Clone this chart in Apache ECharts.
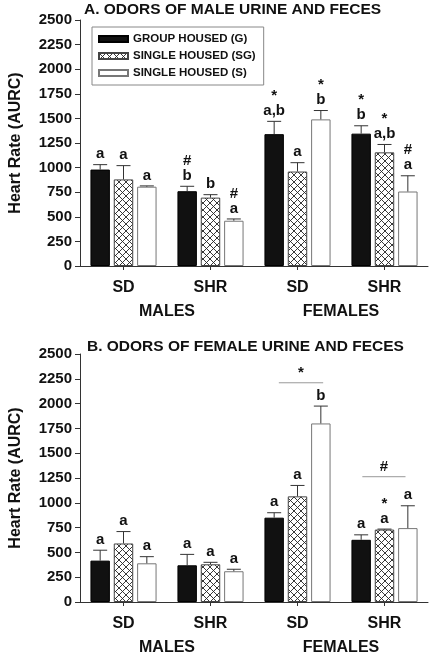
<!DOCTYPE html>
<html>
<head>
<meta charset="utf-8">
<script src="https://cdn.jsdelivr.net/npm/echarts@6/dist/echarts.min.js"></script>
<style>
html,body{margin:0;padding:0;background:#fff;}
#chart{width:432px;height:657px;}
</style>
</head>
<body>
<div id="chart"></div>
<script>
// ---------- DATA ----------
const categories = ['SD', 'SHR', 'SD', 'SHR'];
const sexes = ['MALES', 'FEMALES'];
const seriesNames = ['GROUP HOUSED (G)', 'SINGLE HOUSED (SG)', 'SINGLE HOUSED (S)'];
const yMin = 0, yMax = 2500, yInterval = 250;
const titleA = 'A. ODORS OF MALE URINE AND FECES';
const titleB = 'B. ODORS OF FEMALE URINE AND FECES';
const yName = 'Heart Rate (AURC)';

// Panel A: odors of male urine and feces
const A_G = [980, 760, 1340, 1345];
const A_G_err = [50, 50, 130, 80];
const A_SG = [880, 695, 960, 1155];
const A_SG_err = [140, 30, 90, 80];
const A_S = [806, 460, 1490, 757];
const A_S_err = [8, 18, 90, 160];
const A_G_lbl = ['a', '#\nb', '*\na,b', '*\nb'];
const A_SG_lbl = ['a', 'b', 'a', '*\na,b'];
const A_S_lbl = ['a', '#\na', '*\nb', '#\na'];

// Panel B: odors of female urine and feces
const B_G = [417, 370, 850, 627];
const B_G_err = [105, 110, 50, 50];
const B_SG = [590, 380, 1065, 730];
const B_SG_err = [120, 20, 110, 5];
const B_S = [390, 310, 1800, 745];
const B_S_err = [67, 20, 175, 225];
const B_G_lbl = ['a', 'a', 'a', 'a'];
const B_SG_lbl = ['a', 'a', 'a', '*\na'];
const B_S_lbl = ['a', 'a', 'b', 'a'];

// significance brackets in panel B: category, level, symbol
const B_brk_cat = [2, 3];
const B_brk_val = [2210, 1263];
const B_brk_sym = ['*', '#'];
const B_brk_from = [-0.8, -0.95];   // in bar steps relative to category centre
const B_brk_to = [1.1, 0.9];

// ---------- STYLE ----------
const FF = '"Liberation Sans", Arial, sans-serif';
const CAT_GAP = 0.24, BAR_GAP = 0.2;

const pc = document.createElement('canvas');
pc.width = 7; pc.height = 7;
(function () {
  const c = pc.getContext('2d');
  c.fillStyle = '#fff'; c.fillRect(0, 0, 7, 7);
  c.strokeStyle = '#222'; c.lineWidth = 0.9;
  c.beginPath();
  c.moveTo(-1, -1); c.lineTo(8, 8);
  c.moveTo(8, -1); c.lineTo(-1, 8);
  c.stroke();
})();

const barStyles = [
  { color: '#111', borderColor: '#000', borderWidth: 1 },
  { color: { image: pc, repeat: 'repeat' }, borderColor: '#444', borderWidth: 1 },
  { color: '#fff', borderColor: '#777', borderWidth: 1 }
];

function errItems(means, errs, labels) {
  const items = [];
  for (let s = 0; s < 3; s++) {
    for (let c = 0; c < categories.length; c++) {
      items.push({ value: [c, means[s][c], errs[s][c], s], lbl: labels[s][c] });
    }
  }
  return items;
}

function geom(api) {
  const band = api.size([1, 0])[0];
  const bw = band * (1 - CAT_GAP) / (3 + 2 * BAR_GAP);
  return { bw: bw, step: bw * (1 + BAR_GAP) };
}

function makeErrRender(items) {
  return function (params, api) {
    const c = api.value(0), m = api.value(1), e = api.value(2), s = api.value(3);
    const g = geom(api);
    const base = api.coord([c, m]);
    const top = api.coord([c, m + e]);
    const x = base[0] + (s - 1) * g.step;
    const cap = g.bw * 0.36;
    return {
      type: 'group',
      children: [
        { type: 'line', shape: { x1: x, y1: base[1], x2: x, y2: top[1] }, style: { stroke: '#333', lineWidth: 1 } },
        { type: 'line', shape: { x1: x - cap, y1: top[1], x2: x + cap, y2: top[1] }, style: { stroke: '#333', lineWidth: 1 } },
        { type: 'text', x: x, y: top[1] - 3, style: {
          text: items[params.dataIndex].lbl, align: 'center', verticalAlign: 'bottom',
          fontSize: 15, fontWeight: 'bold', fontFamily: FF, fill: '#111', lineHeight: 15 } }
      ]
    };
  };
}

function bracketRender(params, api) {
  const i = params.dataIndex;
  const c = api.value(0), v = api.value(1);
  const g = geom(api);
  const p = api.coord([c, v]);
  const x1 = p[0] + B_brk_from[i] * g.step, x2 = p[0] + B_brk_to[i] * g.step;
  return {
    type: 'group',
    children: [
      { type: 'line', shape: { x1: x1, y1: p[1], x2: x2, y2: p[1] }, style: { stroke: '#999', lineWidth: 1 } },
      { type: 'text', x: (x1 + x2) / 2, y: p[1] - 2, style: {
        text: B_brk_sym[i], align: 'center', verticalAlign: 'bottom',
        fontSize: 15, fontWeight: 'bold', fontFamily: FF, fill: '#111' } }
    ]
  };
}

const A_items = errItems([A_G, A_SG, A_S], [A_G_err, A_SG_err, A_S_err], [A_G_lbl, A_SG_lbl, A_S_lbl]);
const B_items = errItems([B_G, B_SG, B_S], [B_G_err, B_SG_err, B_S_err], [B_G_lbl, B_SG_lbl, B_S_lbl]);

function catAxis(gi) {
  return {
    type: 'category', gridIndex: gi, data: categories,
    axisLine: { lineStyle: { color: '#333', width: 1 } },
    axisTick: { show: true, alignWithLabel: true, length: 4, lineStyle: { color: '#333' } },
    axisLabel: { fontSize: 16, fontWeight: 'bold', fontFamily: FF, color: '#111', margin: 14 }
  };
}
function sexAxis(gi) {
  return {
    type: 'category', gridIndex: gi, data: sexes, position: 'bottom', offset: 24,
    axisLine: { show: false }, axisTick: { show: false },
    axisLabel: { fontSize: 16, fontWeight: 'bold', fontFamily: FF, color: '#111', margin: 14 }
  };
}
function valAxis(gi) {
  return {
    type: 'value', gridIndex: gi, min: yMin, max: yMax, interval: yInterval,
    name: yName, nameLocation: 'middle', nameRotate: 90, nameGap: 56,
    nameTextStyle: { fontSize: 16, fontWeight: 'bold', fontFamily: FF, color: '#111' },
    axisLine: { show: true, lineStyle: { color: '#333', width: 1 } },
    axisTick: { show: true, length: 5, lineStyle: { color: '#333' } },
    splitLine: { show: false },
    axisLabel: { fontSize: 15, fontWeight: 'bold', fontFamily: FF, color: '#111', margin: 8,
      formatter: function (v) { return String(v); } }
  };
}

function bars(gi, arrs) {
  return arrs.map((d, s) => ({
    type: 'bar', name: seriesNames[s], xAxisIndex: gi * 2, yAxisIndex: gi,
    data: d, barCategoryGap: (CAT_GAP * 100) + '%', barGap: (BAR_GAP * 100) + '%',
    itemStyle: barStyles[s], silent: true
  }));
}

const option = {
  animation: false,
  backgroundColor: '#fff',
  title: [
    { text: titleA, left: 84, top: 2, padding: 0,
      textStyle: { fontSize: 15.5, fontWeight: 'bold', fontFamily: FF, color: '#111' } },
    { text: titleB, left: 87, top: 339, padding: 0,
      textStyle: { fontSize: 15.5, fontWeight: 'bold', fontFamily: FF, color: '#111' } }
  ],
  legend: {
    data: seriesNames, orient: 'vertical', left: 92, top: 27,
    selectedMode: false, icon: 'rect', itemWidth: 29, itemHeight: 6, itemGap: 3,
    borderColor: '#888', borderWidth: 1, padding: [5, 8, 5, 6],
    textStyle: { fontSize: 11.5, fontWeight: 'bold', fontFamily: FF, color: '#111', lineHeight: 14 }
  },
  grid: [
    { left: 78, top: 20, width: 350, height: 246 },
    { left: 79, top: 354, width: 349, height: 248 }
  ],
  xAxis: [catAxis(0), sexAxis(0), catAxis(1), sexAxis(1)],
  yAxis: [valAxis(0), valAxis(1)],
  series: [
    ...bars(0, [A_G, A_SG, A_S]),
    ...bars(1, [B_G, B_SG, B_S]),
    { type: 'custom', xAxisIndex: 0, yAxisIndex: 0, data: A_items, renderItem: makeErrRender(A_items), z: 5, silent: true },
    { type: 'custom', xAxisIndex: 2, yAxisIndex: 1, data: B_items, renderItem: makeErrRender(B_items), z: 5, silent: true },
    { type: 'custom', xAxisIndex: 2, yAxisIndex: 1,
      data: B_brk_cat.map((c, i) => [c, B_brk_val[i]]), renderItem: bracketRender, z: 5, silent: true }
  ]
};

const chart = echarts.init(document.getElementById('chart'));
chart.setOption(option);
</script>
</body>
</html>
